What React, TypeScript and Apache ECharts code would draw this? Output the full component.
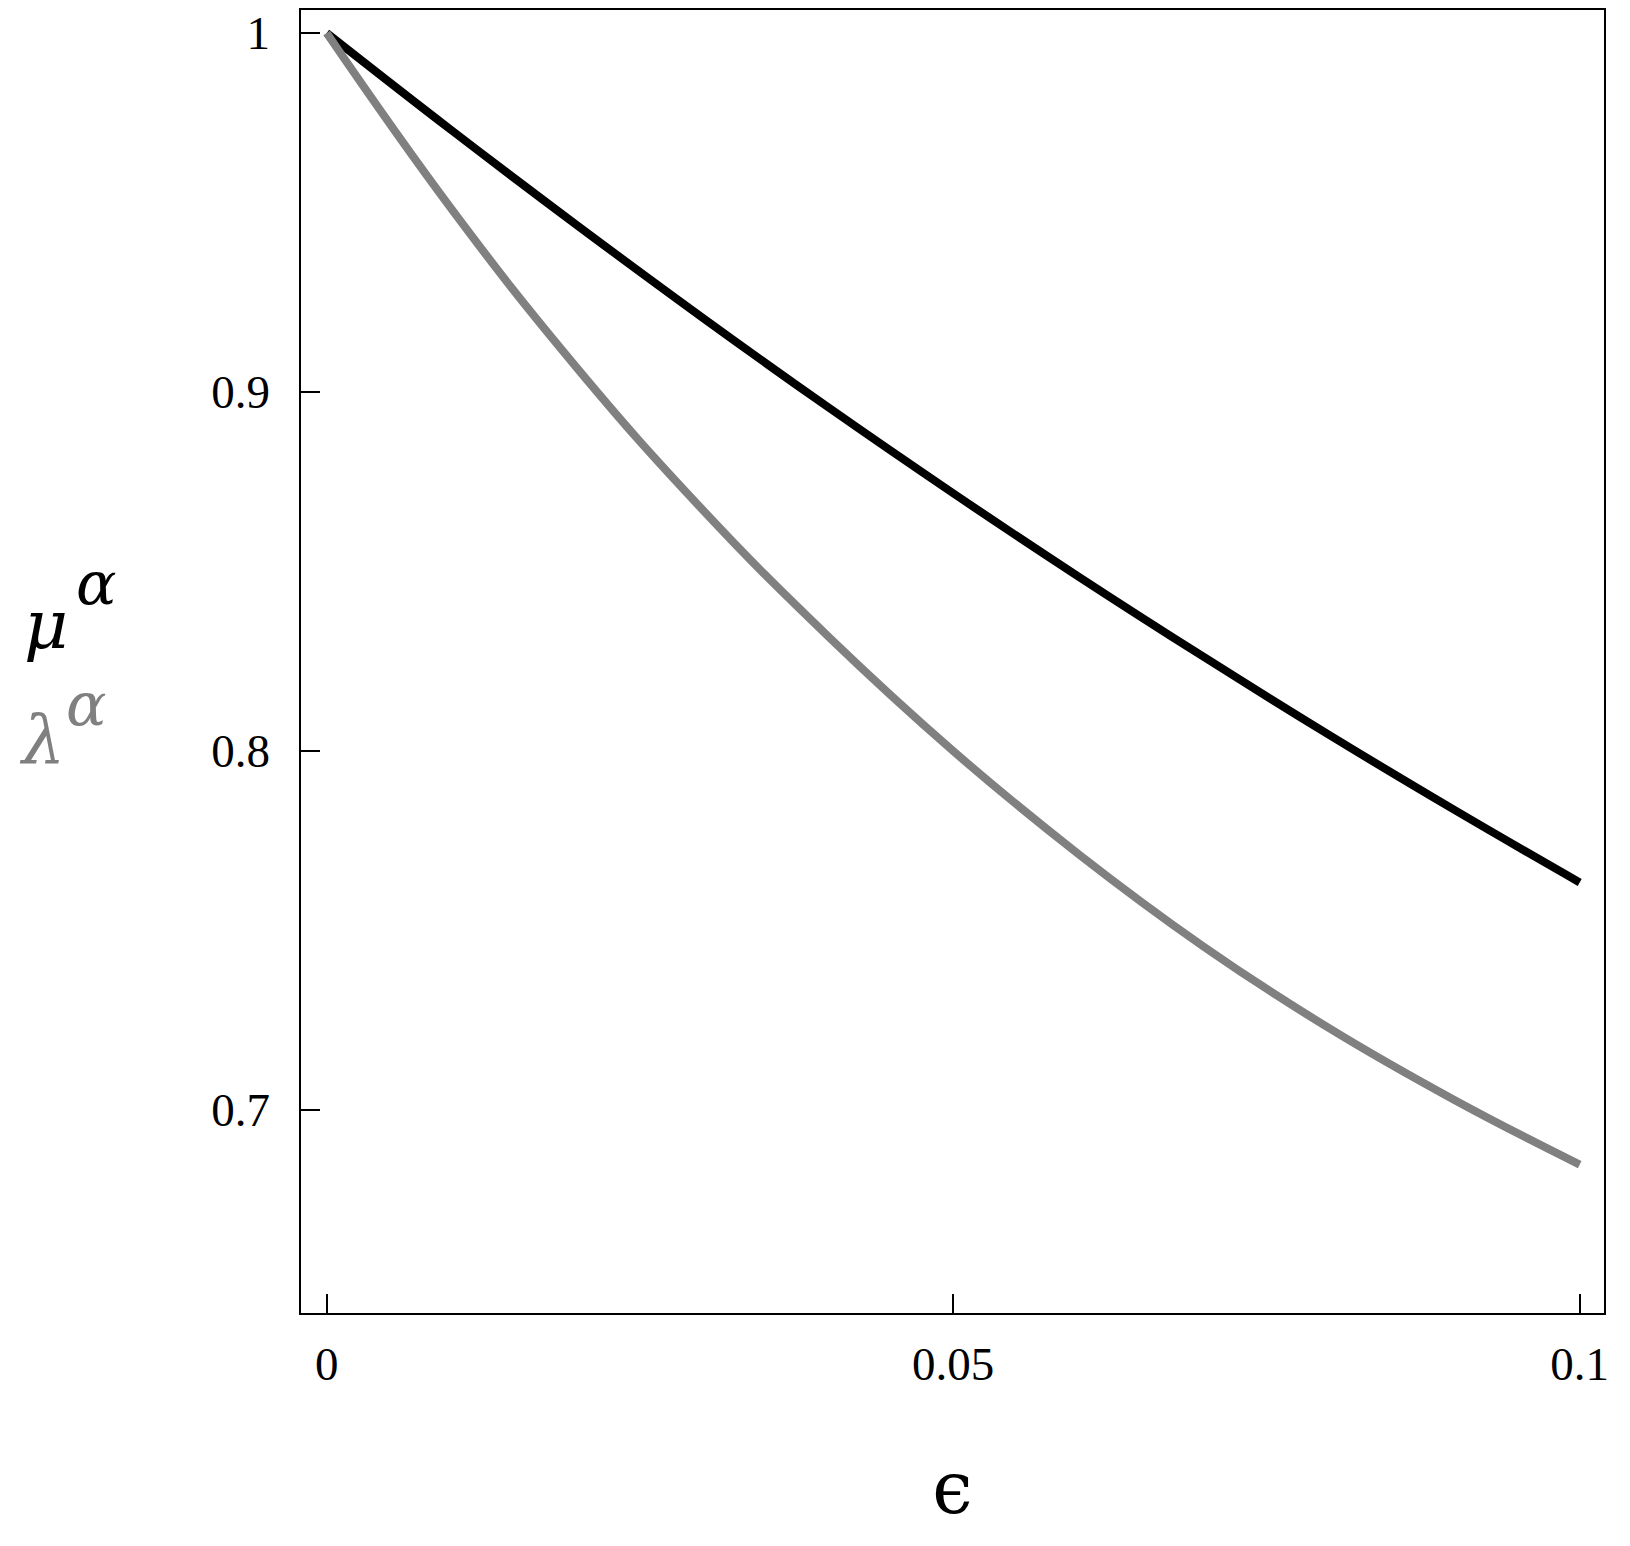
import React, { useEffect, useRef } from "react";
import * as echarts from "echarts";

const epsilon = [0, 0.01, 0.02, 0.03, 0.04, 0.05, 0.06, 0.07, 0.08, 0.09, 0.1];
const muAlpha = [1, 0.9728, 0.9464, 0.9207, 0.8958, 0.8718, 0.8486, 0.8262, 0.8045, 0.7836, 0.7634];
const lambdaAlpha = [1, 0.9508, 0.9066, 0.8672, 0.832, 0.8, 0.7713, 0.7455, 0.7228, 0.7028, 0.6848];
const xTicks = [0, 0.05, 0.1];
const yTicks = [0.7, 0.8, 0.9, 1];

const SERIF = "'Liberation Serif', 'Times New Roman', 'DejaVu Serif', serif";
const GREEK = "'DejaVu Serif', 'Liberation Serif', serif";

export default function App() {
  const ref = useRef<HTMLDivElement>(null);
  useEffect(() => {
    document.body.style.margin = "0";
    const chart = echarts.init(ref.current!, null, { renderer: "svg" });
    const pair = (ys: number[]) => epsilon.map((x, i) => [x, ys[i]]);
    chart.setOption({
      animation: false,
      backgroundColor: "#ffffff",
      grid: {
        left: 300,
        top: 9,
        right: 25,
        bottom: 232,
        show: true,
        borderColor: "#000",
        borderWidth: 2,
        backgroundColor: "transparent",
      },
      xAxis: {
        type: "value",
        min: -0.00213,
        max: 0.10202,
        name: "\u03f5",
        nameLocation: "middle",
        nameGap: 138,
        nameTextStyle: { fontFamily: GREEK, fontSize: 72, color: "#000" },
        axisLine: { show: false, onZero: false },
        splitLine: { show: false },
        axisTick: {
          show: true,
          inside: true,
          length: 20,
          customValues: xTicks,
          lineStyle: { color: "#000", width: 2 },
        },
        axisLabel: {
          customValues: xTicks,
          margin: 26,
          fontFamily: SERIF,
          fontSize: 47,
          color: "#000",
          formatter: (v: number) => String(v),
        },
      },
      yAxis: {
        type: "value",
        min: 0.64318,
        max: 1.00669,
        axisLine: { show: false, onZero: false },
        splitLine: { show: false },
        axisTick: {
          show: true,
          inside: true,
          length: 20,
          customValues: yTicks,
          lineStyle: { color: "#000", width: 2 },
        },
        axisLabel: {
          customValues: yTicks,
          margin: 30,
          fontFamily: SERIF,
          fontSize: 47,
          color: "#000",
          formatter: (v: number) => String(v),
        },
      },
      graphic: [
        { type: "text", left: 24, top: 590, style: { text: "\u03bc", fontFamily: GREEK, fontStyle: "italic", fontSize: 68, fill: "#000" } },
        { type: "text", left: 76, top: 553, style: { text: "\u03b1", fontFamily: GREEK, fontStyle: "italic", fontSize: 60, fill: "#000" } },
        { type: "text", left: 22, top: 705, style: { text: "\u03bb", fontFamily: GREEK, fontStyle: "italic", fontSize: 68, fill: "#808080" } },
        { type: "text", left: 66, top: 674, style: { text: "\u03b1", fontFamily: GREEK, fontStyle: "italic", fontSize: 60, fill: "#808080" } },
      ],
      series: [
        {
          name: "\u03bc\u03b1",
          type: "line",
          data: pair(muAlpha),
          smooth: 0.4,
          symbol: "none",
          lineStyle: { color: "#000", width: 8 },
        },
        {
          name: "\u03bb\u03b1",
          type: "line",
          data: pair(lambdaAlpha),
          smooth: 0.4,
          symbol: "none",
          lineStyle: { color: "#808080", width: 8 },
        },
      ],
    });
    return () => chart.dispose();
  }, []);
  return <div ref={ref} style={{ width: 1630, height: 1546 }} />;
}
